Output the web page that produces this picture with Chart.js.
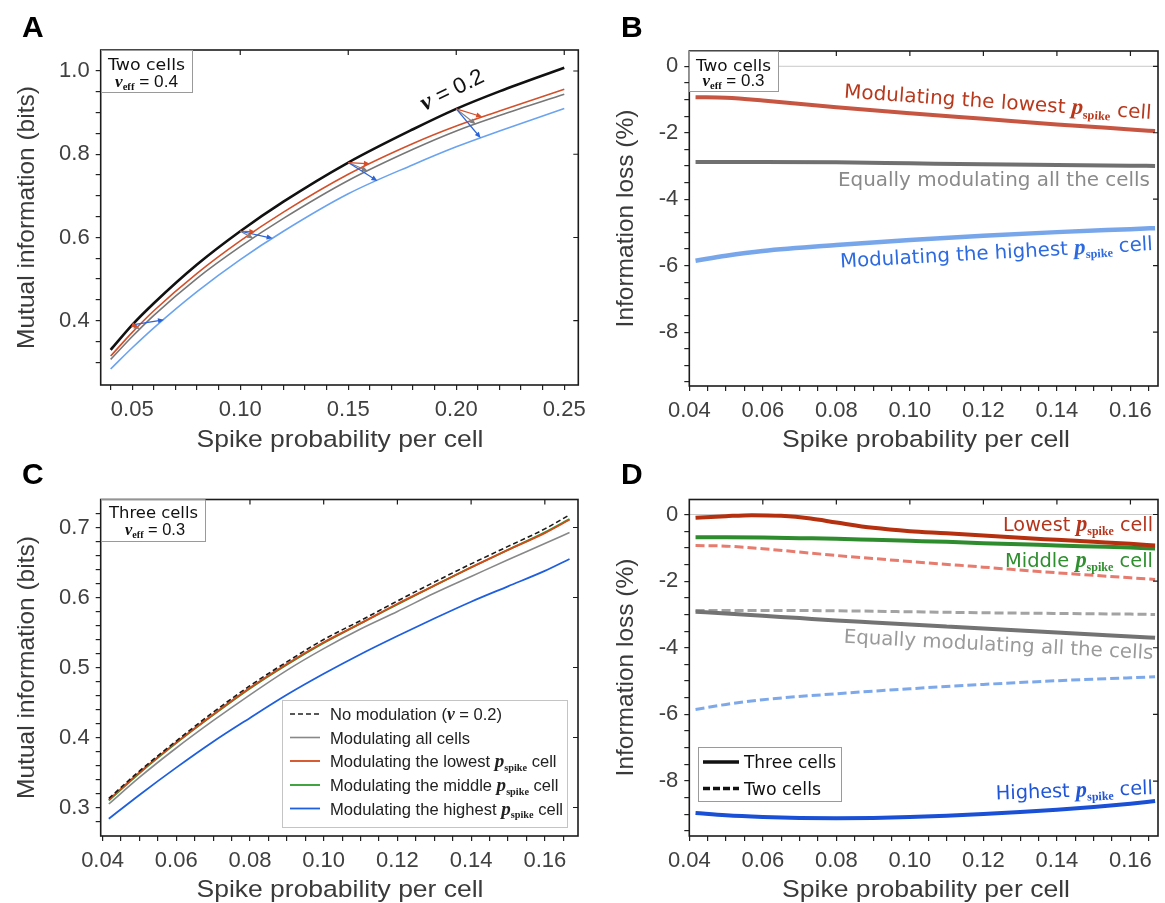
<!DOCTYPE html>
<html>
<head>
<meta charset="utf-8">
<script src="https://cdn.jsdelivr.net/npm/chart.js@4.4.0/dist/chart.umd.min.js"></script>
<style>
  html, body { margin: 0; padding: 0; background: #fff; }
  #fig { position: relative; width: 1165px; height: 903px; overflow: hidden; background: #fff; }
  #fig canvas { position: absolute; }
</style>
</head>
<body>
<div id="fig">
  <canvas id="chartA"></canvas>
  <canvas id="chartB"></canvas>
  <canvas id="chartC"></canvas>
  <canvas id="chartD"></canvas>
</div>
<script>
// ---------- Panel A: mutual information, two cells ----------
const aX       = [0.04, 0.05, 0.06, 0.08, 0.10, 0.12, 0.15, 0.18, 0.20, 0.22, 0.25];
const aNoMod   = [0.330, 0.390, 0.442, 0.535, 0.615, 0.686, 0.780, 0.860, 0.909, 0.951, 1.008];
const aLowest  = [0.315, 0.372, 0.424, 0.514, 0.592, 0.661, 0.752, 0.826, 0.868, 0.904, 0.956];
const aAll     = [0.307, 0.362, 0.413, 0.502, 0.578, 0.646, 0.737, 0.812, 0.856, 0.893, 0.944];
const aHighest = [0.284, 0.335, 0.383, 0.470, 0.547, 0.615, 0.705, 0.775, 0.818, 0.856, 0.910];
// arrows from the unmodulated curve to each modulated curve
const aArrowFromX = [0.05, 0.10, 0.15, 0.20];
const aArrowFromY = [0.390, 0.615, 0.780, 0.909];
const aArrowLowX  = [0.0525, 0.107, 0.160, 0.212];
const aArrowLowY  = [0.385, 0.614, 0.777, 0.890];
const aArrowAllX  = [0.0535, 0.106, 0.159, 0.209];
const aArrowAllY  = [0.380, 0.598, 0.760, 0.872];
const aArrowHighX = [0.0647, 0.115, 0.1635, 0.2113];
const aArrowHighY = [0.402, 0.598, 0.736, 0.839];
const aXMajor = [0.05, 0.10, 0.15, 0.20, 0.25];
const aXLabels = ['0.05', '0.10', '0.15', '0.20', '0.25'];
const aYMajor = [0.4, 0.6, 0.8, 1.0];
const aYLabels = ['0.4', '0.6', '0.8', '1.0'];

// ---------- Panel B: information loss, two cells ----------
const bX       = [0.0417, 0.05, 0.06, 0.08, 0.10, 0.12, 0.14, 0.16, 0.1667];
const bLowest  = [-0.93, -0.95, -1.03, -1.23, -1.41, -1.58, -1.75, -1.90, -1.95];
const bAll     = [-2.88, -2.88, -2.88, -2.89, -2.92, -2.95, -2.97, -2.99, -3.00];
const bHighest = [-5.85, -5.70, -5.56, -5.38, -5.23, -5.10, -4.99, -4.90, -4.87];
const bXMajor = [0.04, 0.06, 0.08, 0.10, 0.12, 0.14, 0.16];
const bXLabels = ['0.04', '0.06', '0.08', '0.10', '0.12', '0.14', '0.16'];
const bYMajor = [-8, -6, -4, -2, 0];
const bYLabels = ['-8', '-6', '-4', '-2', '0'];

// ---------- Panel C: mutual information, three cells ----------
const cX       = [0.0417, 0.05, 0.06, 0.07, 0.08, 0.09, 0.10, 0.11, 0.12, 0.13, 0.14, 0.15, 0.16, 0.1667];
const cNoMod   = [0.313, 0.352, 0.395, 0.436, 0.474, 0.508, 0.540, 0.567, 0.595, 0.622, 0.648, 0.673, 0.698, 0.718];
const cAll     = [0.305, 0.343, 0.385, 0.424, 0.461, 0.496, 0.527, 0.555, 0.580, 0.606, 0.630, 0.654, 0.677, 0.693];
const cLowest  = [0.311, 0.350, 0.393, 0.433, 0.471, 0.505, 0.536, 0.563, 0.591, 0.617, 0.643, 0.668, 0.692, 0.711];
const cMiddle  = [0.310, 0.349, 0.392, 0.432, 0.470, 0.504, 0.535, 0.563, 0.590, 0.617, 0.643, 0.668, 0.693, 0.712];
const cHighest = [0.284, 0.318, 0.357, 0.394, 0.428, 0.461, 0.491, 0.519, 0.545, 0.570, 0.594, 0.616, 0.638, 0.655];
const cXMajor = [0.04, 0.06, 0.08, 0.10, 0.12, 0.14, 0.16];
const cXLabels = ['0.04', '0.06', '0.08', '0.10', '0.12', '0.14', '0.16'];
const cYMajor = [0.3, 0.4, 0.5, 0.6, 0.7];
const cYLabels = ['0.3', '0.4', '0.5', '0.6', '0.7'];

// ---------- Panel D: information loss, three cells (solid) vs two cells (dashed = panel B) ----------
const dX        = [0.0417, 0.05, 0.057, 0.065, 0.073, 0.08, 0.09, 0.10, 0.11, 0.12, 0.13, 0.14, 0.15, 0.16, 0.1667];
const dLowest3  = [-0.10, -0.05, -0.02, -0.04, -0.12, -0.24, -0.40, -0.50, -0.56, -0.63, -0.70, -0.76, -0.82, -0.88, -0.93];
const dX2       = [0.0417, 0.05, 0.06, 0.07, 0.08, 0.09, 0.10, 0.11, 0.12, 0.13, 0.14, 0.15, 0.16, 0.1667];
const dMiddle3  = [-0.68, -0.68, -0.69, -0.71, -0.73, -0.76, -0.79, -0.82, -0.86, -0.89, -0.93, -0.96, -0.99, -1.02];
const dAll3     = [-2.92, -2.97, -3.04, -3.11, -3.18, -3.24, -3.30, -3.36, -3.42, -3.48, -3.54, -3.60, -3.66, -3.70];
const dHighest3 = [-8.96, -9.03, -9.08, -9.11, -9.12, -9.11, -9.08, -9.04, -8.99, -8.93, -8.86, -8.78, -8.68, -8.60];

// ---------- helpers ----------
const steps = (from, to, step) => {
  const out = [];
  for (let i = 0; from + i * step <= to + 1e-9; i++) out.push(+(from + i * step).toFixed(4));
  return out;
};
const sans = px => `${px}px "Liberation Sans", Arial, sans-serif`;
const lucida = px => `${px}px "DejaVu Sans", Verdana, sans-serif`;
const serifBI = px => `italic bold ${px}px "Liberation Serif", "DejaVu Serif", serif`;
const serifB = px => `bold ${px}px "Liberation Serif", "DejaVu Serif", serif`;
const pSpike = (px, c) => [
  { t: 'p', f: serifBI(px * 1.15), c },
  { t: 'spike', f: serifB(px * 0.62), c, dy: px * 0.22 }
];
const nuEff = (px, rest) => [
  { t: 'ν', f: serifBI(px) },
  { t: 'eff', f: serifB(px * 0.62), dy: px * 0.2 },
  { t: rest, f: sans(px) }
];

function measure(ctx, segs) {
  let total = 0;
  segs.forEach(s => { ctx.font = s.f; s.w = ctx.measureText(s.t).width; total += s.w; });
  return total;
}
function drawRich(ctx, segs, x, y, o = {}) {
  ctx.save();
  ctx.translate(x, y);
  if (o.angle) ctx.rotate(o.angle * Math.PI / 180);
  const total = measure(ctx, segs);
  const k = o.width ? o.width / total : (o.sx || 1);
  ctx.scale(k, 1);
  let cx = o.align === 'right' ? -total : o.align === 'center' ? -total / 2 : 0;
  ctx.textBaseline = 'alphabetic';
  ctx.textAlign = 'left';
  segs.forEach(s => {
    ctx.font = s.f;
    ctx.fillStyle = s.c || o.color || '#111';
    ctx.fillText(s.t, cx, s.dy || 0);
    cx += s.w;
  });
  ctx.restore();
}
function arrow(ctx, x0, y0, x1, y1, c) {
  const ang = Math.atan2(y1 - y0, x1 - x0), L = 6, W = 2.6;
  ctx.strokeStyle = c; ctx.fillStyle = c; ctx.lineWidth = 1.2;
  ctx.beginPath();
  ctx.moveTo(x0, y0);
  ctx.lineTo(x1 - L * 0.6 * Math.cos(ang), y1 - L * 0.6 * Math.sin(ang));
  ctx.stroke();
  ctx.beginPath();
  ctx.moveTo(x1, y1);
  ctx.lineTo(x1 - L * Math.cos(ang) + W * Math.sin(ang), y1 - L * Math.sin(ang) - W * Math.cos(ang));
  ctx.lineTo(x1 - L * Math.cos(ang) - W * Math.sin(ang), y1 - L * Math.sin(ang) + W * Math.cos(ang));
  ctx.closePath();
  ctx.fill();
}
const line = (xs, ys, color, width, dash) => ({
  data: xs.map((v, i) => ({ x: v, y: ys[i] })),
  borderColor: color,
  borderWidth: width,
  borderDash: dash || [],
  pointRadius: 0,
  fill: false,
  cubicInterpolationMode: 'monotone'
});

// drawing of frame, inward ticks, labels, boxes and titles (global page coordinates)
function decoPlugin(box, deco, xMajor, yMajor) {
  return {
    id: 'deco',
    beforeDatasetsDraw(chart) {
      const { ctx, chartArea: a, scales: { y } } = chart;
      if (deco.zeroLine) {
        const py = y.getPixelForValue(0);
        ctx.save();
        ctx.strokeStyle = '#c9c9c9'; ctx.lineWidth = 1;
        ctx.beginPath(); ctx.moveTo(a.left, py); ctx.lineTo(a.right, py); ctx.stroke();
        ctx.restore();
      }
    },
    afterDatasetsDraw(chart) {
      const { ctx, chartArea: a, scales: { x, y } } = chart;
      ctx.save();
      (deco.arrows || []).forEach(ar => {
        arrow(ctx, x.getPixelForValue(ar.fx), y.getPixelForValue(ar.fy),
          x.getPixelForValue(ar.tx), y.getPixelForValue(ar.ty), ar.c);
      });
      // frame
      ctx.strokeStyle = '#1c1c1c'; ctx.lineWidth = 1.6;
      ctx.strokeRect(a.left, a.top, a.right - a.left, a.bottom - a.top);
      // inward major ticks on top and right
      ctx.lineWidth = 1.2;
      ctx.beginPath();
      xMajor.forEach(v => {
        const px = x.getPixelForValue(v);
        if (px > a.left + 1 && px < a.right - 1) { ctx.moveTo(px, a.top); ctx.lineTo(px, a.top + 5); }
      });
      yMajor.forEach(v => {
        const py = y.getPixelForValue(v);
        if (py > a.top + 1 && py < a.bottom - 1) { ctx.moveTo(a.right, py); ctx.lineTo(a.right - 5, py); }
      });
      ctx.stroke();
      ctx.translate(-box.x, -box.y);
      (deco.boxes || []).forEach(b => {
        ctx.fillStyle = '#fff';
        ctx.fillRect(b.x0, b.y0, b.x1 - b.x0, b.y1 - b.y0);
        ctx.strokeStyle = b.stroke || '#9a9a9a'; ctx.lineWidth = 1;
        ctx.strokeRect(b.x0 + 0.5, b.y0 + 0.5, b.x1 - b.x0, b.y1 - b.y0);
      });
      (deco.legendLines || []).forEach(l => {
        ctx.strokeStyle = l.c; ctx.lineWidth = l.w; ctx.setLineDash(l.dash || []);
        ctx.beginPath(); ctx.moveTo(l.x0, l.y); ctx.lineTo(l.x1, l.y); ctx.stroke();
        ctx.setLineDash([]);
      });
      let legendK = 1;
      if (deco.legendFit) {
        legendK = deco.legendFit.width / measure(ctx, deco.legendFit.segs);
      }
      (deco.texts || []).forEach(t => {
        const o = Object.assign({}, t);
        if (t.legend) o.sx = legendK;
        drawRich(ctx, t.segs, t.x, t.y, o);
      });
      // axis titles and panel letter
      drawRich(ctx, [{ t: deco.xTitle.t, f: sans(24.5), c: '#3a3a3a' }], deco.xTitle.x, deco.xTitle.y,
        { align: 'center', width: deco.xTitle.w });
      drawRich(ctx, [{ t: deco.yTitle.t, f: sans(24.5), c: '#3a3a3a' }], deco.yTitle.x, deco.yTitle.y,
        { align: 'center', angle: -90 });
      drawRich(ctx, [{ t: deco.letter.t, f: 'bold 30px "Liberation Sans", Arial, sans-serif', c: '#000' }],
        deco.letter.x, deco.letter.y, {});
      ctx.restore();
    }
  };
}

function makeChart(id, box, area, xr, yr, xt, yt, datasets, deco) {
  const cv = document.getElementById(id);
  cv.width = box.w; cv.height = box.h;
  cv.style.left = box.x + 'px'; cv.style.top = box.y + 'px';
  const labelFor = (majors, labels) => v => {
    const i = majors.findIndex(m => Math.abs(m - v) < 1e-6);
    return i < 0 ? '' : labels[i];
  };
  const tickFont = { family: '"Liberation Sans", Arial, sans-serif', size: 22 };
  const grid = { display: true, drawOnChartArea: false, drawTicks: true, tickLength: 5, color: '#222', lineWidth: 1.2 };
  return new Chart(cv, {
    type: 'line',
    data: { datasets },
    options: {
      responsive: false,
      animation: false,
      devicePixelRatio: 1,
      events: [],
      layout: { padding: { left: 0, top: area.top, right: box.w - area.right, bottom: 0 } },
      plugins: { legend: { display: false }, tooltip: { enabled: false } },
      scales: {
        x: {
          type: 'linear', min: xr[0], max: xr[1],
          afterBuildTicks: s => { s.ticks = xt.all.map(v => ({ value: v })); },
          afterFit: s => { s.height = box.h - area.bottom; s.paddingLeft = 0; s.paddingRight = 0; },
          ticks: { autoSkip: false, maxRotation: 0, padding: 7, color: '#404040', font: tickFont,
            callback: labelFor(xt.major, xt.labels) },
          grid, border: { display: false }
        },
        y: {
          type: 'linear', min: yr[0], max: yr[1],
          afterBuildTicks: s => { s.ticks = yt.all.map(v => ({ value: v })); },
          afterFit: s => { s.width = area.left; s.paddingTop = 0; s.paddingBottom = 0; },
          ticks: { autoSkip: false, padding: 6, color: '#404040', font: tickFont,
            callback: labelFor(yt.major, yt.labels) },
          grid, border: { display: false }
        }
      }
    },
    plugins: [decoPlugin(box, deco, xt.major, yt.major)]
  });
}

// ---------- colours ----------
const RED_A = '#d4502a', GRAY_A = '#777777', BLUE_A = '#6aa3f0';

// ---------- Panel A ----------
const arrowsA = [];
aArrowFromX.forEach((fx, i) => {
  arrowsA.push({ fx, fy: aArrowFromY[i], tx: aArrowAllX[i], ty: aArrowAllY[i], c: '#808080' });
  arrowsA.push({ fx, fy: aArrowFromY[i], tx: aArrowHighX[i], ty: aArrowHighY[i], c: '#2a64d8' });
  arrowsA.push({ fx, fy: aArrowFromY[i], tx: aArrowLowX[i], ty: aArrowLowY[i], c: '#d4502a' });
});
makeChart('chartA', { x: 0, y: 0, w: 595, h: 452 }, { left: 100.7, top: 50, right: 578.3, bottom: 385 },
  [0.0354, 0.2565], [0.2455, 1.0505],
  { all: steps(0.04, 0.25, 0.01), major: aXMajor, labels: aXLabels },
  { all: steps(0.30, 1.00, 0.05), major: aYMajor, labels: aYLabels },
  [
    line(aX, aNoMod, '#111111', 2.6),
    line(aX, aLowest, RED_A, 1.6),
    line(aX, aAll, GRAY_A, 1.6),
    line(aX, aHighest, BLUE_A, 1.6)
  ],
  {
    arrows: arrowsA,
    boxes: [{ x0: 101, y0: 50, x1: 192, y1: 92 }],
    texts: [
      { segs: [{ t: 'Two cells', f: lucida(15.5) }], x: 146.5, y: 70, align: 'center', width: 77 },
      { segs: nuEff(16, ' = 0.4'), x: 146.5, y: 87, align: 'center', width: 63 },
      { segs: [{ t: 'ν', f: serifBI(24) }, { t: ' = 0.2', f: sans(22) }], x: 455, y: 96, align: 'center', angle: -26, width: 68 }
    ],
    xTitle: { t: 'Spike probability per cell', x: 340, y: 446.5, w: 287 },
    yTitle: { t: 'Mutual information (bits)', x: 33.5, y: 217.5 },
    letter: { t: 'A', x: 22, y: 37 }
  });

// ---------- Panel B ----------
makeChart('chartB', { x: 595, y: 0, w: 570, h: 452 }, { left: 94.3, top: 51, right: 563, bottom: 386 },
  [0.04, 0.1675], [-9.62, 0.46],
  { all: steps(0.04, 0.165, 0.005), major: bXMajor, labels: bXLabels },
  { all: steps(-9.5, 0, 0.5), major: bYMajor, labels: bYLabels },
  [
    line(bX, bLowest, 'rgba(190,62,40,0.88)', 4),
    line(bX, bAll, 'rgba(100,100,100,0.92)', 4),
    line(bX, bHighest, 'rgba(108,158,232,0.92)', 4.5)
  ],
  {
    zeroLine: true,
    boxes: [{ x0: 689, y0: 51, x1: 778, y1: 91 }],
    texts: [
      { segs: [{ t: 'Two cells', f: lucida(15.5) }], x: 733.5, y: 71, align: 'center', width: 75 },
      { segs: nuEff(16, ' = 0.3'), x: 733.5, y: 86, align: 'center', width: 62 },
      { segs: [{ t: 'Modulating the lowest ', f: lucida(19.5) }, ...pSpike(19.5), { t: ' cell', f: lucida(19.5) }],
        x: 1151, y: 119, align: 'right', angle: 4, width: 308, color: '#b8381c' },
      { segs: [{ t: 'Equally modulating all the cells', f: lucida(19.5) }],
        x: 1150, y: 186, align: 'right', width: 312, color: '#8a8a8a' },
      { segs: [{ t: 'Modulating the highest ', f: lucida(19.5) }, ...pSpike(19.5), { t: ' cell', f: lucida(19.5) }],
        x: 1153, y: 250, align: 'right', angle: -3.2, width: 313, color: '#2d6ae0' }
    ],
    xTitle: { t: 'Spike probability per cell', x: 926, y: 446.5, w: 288 },
    yTitle: { t: 'Information loss (%)', x: 633, y: 218.5 },
    letter: { t: 'B', x: 621, y: 37 }
  });

// ---------- Panel C ----------
const cLegendSegs = [
  [{ t: 'No modulation (', f: sans(17) }, { t: 'ν', f: serifBI(18) }, { t: ' = 0.2)', f: sans(17) }],
  [{ t: 'Modulating all cells', f: sans(17) }],
  [{ t: 'Modulating the lowest ', f: sans(17) }, ...pSpike(17), { t: ' cell', f: sans(17) }],
  [{ t: 'Modulating the middle ', f: sans(17) }, ...pSpike(17), { t: ' cell', f: sans(17) }],
  [{ t: 'Modulating the highest ', f: sans(17) }, ...pSpike(17), { t: ' cell', f: sans(17) }]
];
const cLegendStyle = [
  { c: '#222222', w: 1.6, dash: [5, 3] },
  { c: '#888888', w: 1.6 },
  { c: '#d44a1a', w: 1.8 },
  { c: '#2b9a2b', w: 1.8 },
  { c: '#1e5fe0', w: 1.8 }
];
const cRows = [720, 743.5, 767, 791, 814.5];
makeChart('chartC', { x: 0, y: 452, w: 595, h: 451 }, { left: 100.7, top: 47.5, right: 578, bottom: 384 },
  [0.0395, 0.169], [0.2593, 0.74],
  { all: steps(0.04, 0.165, 0.005), major: cXMajor, labels: cXLabels },
  { all: steps(0.28, 0.72, 0.02), major: cYMajor, labels: cYLabels },
  [
    line(cX, cNoMod, '#1a1a1a', 1.6, [5, 3]),
    line(cX, cLowest, '#d44a1a', 1.8),
    line(cX, cMiddle, '#2b9a2b', 1.8),
    line(cX, cAll, '#888888', 1.6),
    line(cX, cHighest, '#1e5fe0', 1.8)
  ],
  {
    boxes: [
      { x0: 101, y0: 499.5, x1: 205, y1: 541 },
      { x0: 282, y0: 700, x1: 567, y1: 827, stroke: '#c4c4c4' }
    ],
    legendLines: cLegendStyle.map((s, i) => ({ x0: 290, x1: 320, y: cRows[i] - 6, c: s.c, w: s.w, dash: s.dash })),
    legendFit: { segs: cLegendSegs[4], width: 233 },
    texts: [
      { segs: [{ t: 'Three cells', f: lucida(15.5) }], x: 153.5, y: 518, align: 'center', width: 89 },
      { segs: nuEff(16, ' = 0.3'), x: 155, y: 535, align: 'center', width: 60 },
      ...cLegendSegs.map((segs, i) => ({ segs, x: 330, y: cRows[i], legend: true, color: '#222' }))
    ],
    xTitle: { t: 'Spike probability per cell', x: 340, y: 896.5, w: 287 },
    yTitle: { t: 'Mutual information (bits)', x: 33.5, y: 667.5 },
    letter: { t: 'C', x: 22, y: 484 }
  });

// ---------- Panel D ----------
makeChart('chartD', { x: 595, y: 452, w: 570, h: 451 }, { left: 94.3, top: 47.5, right: 563, bottom: 384 },
  [0.04, 0.1675], [-9.65, 0.45],
  { all: steps(0.04, 0.165, 0.005), major: bXMajor, labels: bXLabels },
  { all: steps(-9.5, 0, 0.5), major: bYMajor, labels: bYLabels },
  [
    line(dX, dLowest3, '#b5300e', 4),
    line(dX2, dMiddle3, '#2e8b2e', 4),
    line(dX2, dAll3, '#737373', 4),
    line(dX2, dHighest3, '#1a50d6', 4),
    line(bX, bLowest, 'rgba(228,112,98,0.92)', 3, [9, 4]),
    line(bX, bAll, '#a3a3a3', 3, [9, 4]),
    line(bX, bHighest, 'rgba(118,164,234,0.95)', 3, [9, 4])
  ],
  {
    zeroLine: true,
    boxes: [{ x0: 698, y0: 747, x1: 841, y1: 801, stroke: '#9a9a9a' }],
    legendLines: [
      { x0: 703, x1: 739, y: 762, c: '#111', w: 3.5 },
      { x0: 703, x1: 739, y: 788.5, c: '#111', w: 3.5, dash: [7, 3] }
    ],
    texts: [
      { segs: [{ t: 'Three cells', f: lucida(17) }], x: 744, y: 768, width: 92, color: '#111' },
      { segs: [{ t: 'Two cells', f: lucida(17) }], x: 744, y: 795, width: 77, color: '#111' },
      { segs: [{ t: 'Lowest ', f: lucida(19.5) }, ...pSpike(19.5), { t: ' cell', f: lucida(19.5) }],
        x: 1153, y: 531, align: 'right', width: 150, color: '#b5341c' },
      { segs: [{ t: 'Middle ', f: lucida(19.5) }, ...pSpike(19.5), { t: ' cell', f: lucida(19.5) }],
        x: 1153, y: 567, align: 'right', width: 148, color: '#2f8f2f' },
      { segs: [{ t: 'Equally modulating all the cells', f: lucida(19.5) }],
        x: 1153, y: 659, align: 'right', angle: 3, width: 310, color: '#9a9a9a' },
      { segs: [{ t: 'Highest ', f: lucida(19.5) }, ...pSpike(19.5), { t: ' cell', f: lucida(19.5) }],
        x: 1153, y: 794, align: 'right', angle: -2, width: 157, color: '#1f55d8' }
    ],
    xTitle: { t: 'Spike probability per cell', x: 926, y: 896.5, w: 288 },
    yTitle: { t: 'Information loss (%)', x: 633, y: 667.5 },
    letter: { t: 'D', x: 621, y: 484 }
  });
</script>
</body>
</html>
